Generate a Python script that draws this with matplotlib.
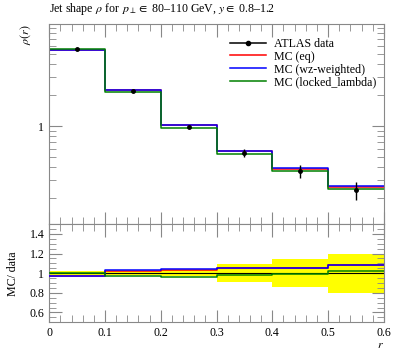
import numpy as np
import matplotlib
matplotlib.use("Agg")
import matplotlib.pyplot as plt
from matplotlib.lines import Line2D
from matplotlib.ticker import FixedLocator, MultipleLocator, NullFormatter, LogLocator

plt.rcParams['font.family'] = ['Liberation Serif', 'DejaVu Serif']
plt.rcParams['mathtext.fontset'] = 'stix'

# bin edges in r
edges = [0.0, 0.1, 0.2, 0.3, 0.4, 0.5, 0.6]

# ATLAS data with errors
data = [5.70, 2.20, 0.99, 0.552, 0.372, 0.241]
data_err = [0.11, 0.045, 0.03, 0.05, 0.054, 0.048]

# MC predictions
mc_eq = [5.55, 2.25, 1.02, 0.580, 0.390, 0.260]
mc_wz = [5.55, 2.27, 1.03, 0.582, 0.392, 0.262]
mc_locked = [5.70, 2.14, 0.956, 0.543, 0.368, 0.246]

mc_sets = [("MC (eq)", mc_eq, "red"),
           ("MC (wz-weighted)", mc_wz, "blue"),
           ("MC (locked_lambda)", mc_locked, "green")]

edges = np.array(edges)
data = np.array(data)
data_err = np.array(data_err)
centers = 0.5 * (edges[:-1] + edges[1:])

FS = 8.6

fig = plt.figure(figsize=(3.97, 3.58), dpi=100)
ax = fig.add_axes([0.124, 0.374, 0.843, 0.558])
rax = fig.add_axes([0.124, 0.0997, 0.843, 0.2743], sharex=ax)

grey = "#888888"

def step(a, vals, **kw):
    v = np.append(vals, vals[-1])
    return a.step(edges, v, where="post", **kw)

# main panel
handles = [Line2D([], [], color="black", marker="o", ms=3, lw=1.1)]
labels = ["ATLAS data"]
for label, vals, col in mc_sets:
    h, = step(ax, np.array(vals), color=col, lw=1.1)
    handles.append(h)
    labels.append(label)
ax.errorbar(centers, data, yerr=data_err, fmt="o", color="black", ms=2.5,
            elinewidth=1.0, capsize=0, zorder=5)

ax.set_yscale("log")
ax.set_ylim(0.1126, 9.78)
ax.set_xlim(0, 0.6)
ax.yaxis.set_major_locator(FixedLocator([1, 10]))
ax.yaxis.set_minor_locator(LogLocator(base=10, subs=np.arange(2, 10) * 1.0))
ax.yaxis.set_major_formatter(plt.FuncFormatter(lambda v, p: "1" if abs(v - 1) < 1e-9 else ""))
ax.yaxis.set_minor_formatter(NullFormatter())
ax.set_ylabel(r"$\rho(r)$", loc="top", fontsize=FS)
ax.tick_params(labelbottom=False)

ax.legend(handles, labels, loc="upper left", bbox_to_anchor=(0.515, 0.975),
          frameon=False, fontsize=FS, handlelength=3.0, handletextpad=0.7,
          labelspacing=0.08, borderpad=0.2)

ax.text(0.0, 1.035, r"Jet shape $\rho$ for $\,p_\perp \in$ 80–110 GeV, $y \in$ 0.8–1.2",
        transform=ax.transAxes, fontsize=FS, ha="left", va="bottom")

# ratio panel
rel = data_err / data
for i in range(len(centers)):
    rax.fill_between([edges[i], edges[i + 1]], 1 - rel[i], 1 + rel[i],
                     color="#ffff00", lw=0, zorder=1)
step(rax, np.ones(len(data)), color="black", lw=0.8, zorder=2)
for label, vals, col in mc_sets:
    step(rax, np.array(vals) / data, color=col, lw=1.1, zorder=3)

rax.set_ylim(0.5, 1.5)
rax.set_xlim(0, 0.6)
rax.yaxis.set_major_locator(FixedLocator([0.6, 0.8, 1.0, 1.2, 1.4]))
rax.yaxis.set_minor_locator(MultipleLocator(0.05))
rax.yaxis.set_major_formatter(plt.FuncFormatter(lambda v, p: "%g" % v))
rax.xaxis.set_major_locator(MultipleLocator(0.1))
rax.xaxis.set_minor_locator(MultipleLocator(0.02))
rax.xaxis.set_major_formatter(plt.FuncFormatter(lambda v, p: "%g" % round(v, 2)))
rax.set_ylabel("MC/ data", fontsize=FS)
rax.yaxis.set_label_coords(-0.09, 0.5)
rax.set_xlabel(r"$r$", loc="right", fontsize=FS, labelpad=0)

for a in (ax, rax):
    a.tick_params(which="both", direction="in", top=True, right=True,
                  color=grey, labelsize=FS)
    a.tick_params(which="major", length=9, width=0.8)
    a.tick_params(which="minor", length=5, width=0.6)
    for s in a.spines.values():
        s.set_color(grey)
        s.set_linewidth(0.8)

fig.savefig("out.png", dpi=100)
